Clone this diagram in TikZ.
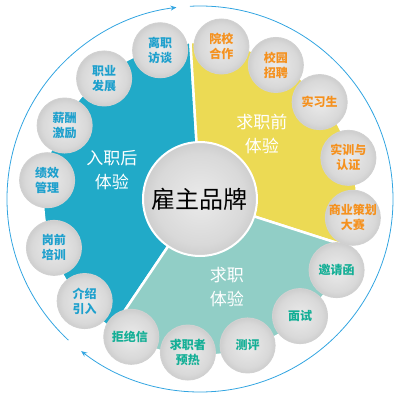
\documentclass[tikz,border=0pt]{standalone}
\usepackage{fontspec}
\setmainfont{Noto Sans CJK SC}
\usepackage{tikz}
\usetikzlibrary{arrows.meta}

\definecolor{secblue}{RGB}{33,170,200}
\definecolor{secyellow}{RGB}{236,218,84}
\definecolor{secteal}{RGB}{145,206,198}
\definecolor{txtblue}{RGB}{30,160,205}
\definecolor{txtorange}{RGB}{245,145,30}
\definecolor{txtteal}{RGB}{20,175,150}
\definecolor{ringblue}{RGB}{50,165,225}

\pgfdeclareradialshading{ball}{\pgfpoint{0bp}{0bp}}{%
  color(0bp)=(black!8); color(20bp)=(black!15); color(40bp)=(black!32); color(50bp)=(black!45)}

\tikzset{
  bubble/.style={circle, minimum size=55pt, inner sep=0pt, shading=ball,
    draw=black!18, line width=1pt, align=center,
    font=\bfseries\fontsize{12}{15}\selectfont},
  seclabel/.style={white, align=center, font=\fontsize{17}{24}\selectfont},
  ring/.style={ringblue, line width=0.8pt}
}

\begin{document}
\begin{tikzpicture}[x=1pt,y=1pt]
    \useasboundingbox (-200,-201) rectangle (200,199);

    % outer ring with arrows
    \draw[ring, -{Stealth[length=6pt,width=5pt]}] (227:193) arc[start angle=227, end angle=97, radius=193pt];
    \draw[ring, -{Stealth[length=6pt,width=5pt]}] (93:193) arc[start angle=93, end angle=-128, radius=193pt];

    % three sectors
    \filldraw[secblue, draw=white, line width=2.5pt] (0,0) -- (93.5:157) arc[start angle=93.5, end angle=236, radius=157pt] -- cycle;
    \filldraw[secyellow, draw=white, line width=2.5pt] (0,0) -- (-17.8:157) arc[start angle=-17.8, end angle=93.5, radius=157pt] -- cycle;
    \filldraw[secteal, draw=white, line width=2.5pt] (0,0) -- (236:157) arc[start angle=236, end angle=342.2, radius=157pt] -- cycle;

    \node[seclabel] (after) at (-88,29) {入职后\\体验};
    \node[seclabel] (before) at (62,65) {求职前\\体验};
    \node[seclabel] (during) at (27,-88) {求职\\体验};

    % centre
    \node[circle, minimum size=114pt, inner sep=0pt, shading=ball, draw=white, line width=2pt,
          font=\fontsize{24}{24}\selectfont] (brand) at (0,0) {雇主品牌};

    % bubbles round the rim, two lines
    \foreach \i/\ang/\col/\ta/\tb in {
        1/82/txtorange/院校/合作,
        2/60.5/txtorange/校园/招聘,
        4/15.5/txtorange/实训与/认证,
        5/-7/txtorange/商业策划/大赛,
        9/-94.5/txtteal/求职者/预热,
        11/-138.5/txtblue/介绍/引入,
        12/-161.5/txtblue/岗前/培训,
        13/173/txtblue/绩效/管理,
        14/151.5/txtblue/薪酬/激励,
        15/128.5/txtblue/职业/发展,
        16/105/txtblue/离职/访谈
    } {
        \node[bubble, text=\col] (b\i) at (\ang:154) {\ta\\\tb};
    }
    % one line
    \foreach \i/\ang/\col/\ta in {
        3/39/txtorange/实习生,
        6/-27.5/txtteal/邀请函,
        7/-49.5/txtteal/面试,
        8/-72/txtteal/测评,
        10/-116.5/txtteal/拒绝信
    } {
        \node[bubble, text=\col] (b\i) at (\ang:154) {\ta};
    }

\end{tikzpicture}
\end{document}
